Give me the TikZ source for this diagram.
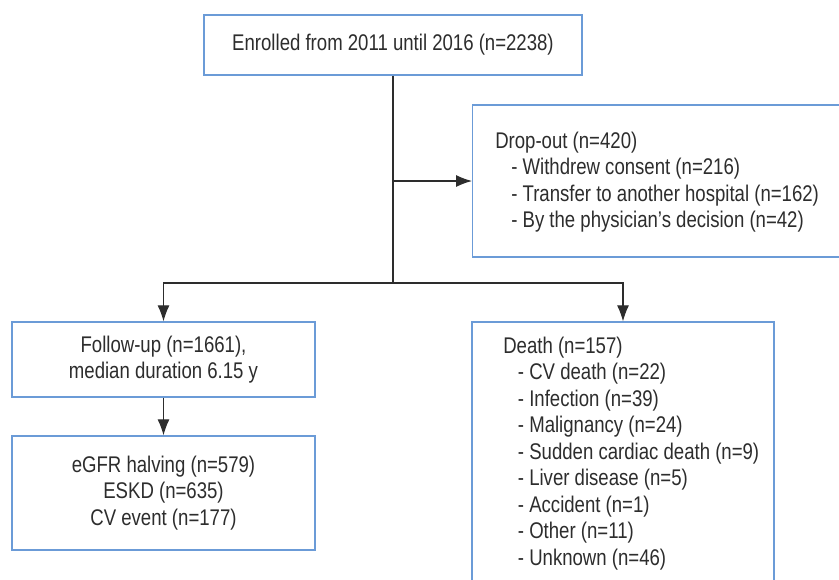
\documentclass[tikz,border=0pt]{standalone}
\usepackage{fontspec}
\setmainfont{Liberation Sans}[FakeStretch=0.82]
\usetikzlibrary{arrows.meta}

\definecolor{boxblue}{RGB}{107,155,215}
\definecolor{inkgray}{RGB}{45,45,45}

\tikzset{
    flowbox/.style={draw=boxblue, line width=1pt, fill=white, inner sep=0pt,
        text=inkgray, align=center},
    listtext/.style={text=inkgray, align=left, inner sep=0pt, anchor=west},
    flowline/.style={draw=inkgray, line width=0.8pt},
    flowarrow/.style={flowline, -{Latex[length=12pt, width=9pt]}},
}

\begin{document}
\begin{tikzpicture}[x=0.75pt, y=-0.75pt, font=\fontsize{17}{19.9}\selectfont]
    \path[use as bounding box, clip] (0,0) rectangle (839,579);

    % boxes
    \node[flowbox, minimum width=283.5pt, minimum height=45pt] (enrol) at (393,45)
        {Enrolled from 2011 until 2016 (n=2238)};
    \node[flowbox, minimum width=300pt, minimum height=114pt, anchor=west] (drop) at (472,181) {};
    \node[listtext] (droptext) at (495,182)
        {Drop-out (n=420)\\
         \hspace*{12pt}- Withdrew consent (n=216)\\
         \hspace*{12pt}- Transfer to another hospital (n=162)\\
         \hspace*{12pt}- By the physician’s decision (n=42)};
    \node[flowbox, minimum width=227.25pt, minimum height=56.25pt] (follow) at (163.5,359.5)
        {Follow-up (n=1661),\\ median duration 6.15 y};
    \node[flowbox, minimum width=227.25pt, minimum height=85.5pt] (outcome) at (163.5,493)
        {eGFR halving (n=579)\\ ESKD (n=635)\\ CV event (n=177)};
    \node[flowbox, minimum width=226.5pt, minimum height=197.25pt] (death) at (623,453.5) {};
    \node[listtext] (deathtext) at (503,453.5)
        {Death (n=157)\\
         \hspace*{11pt}- CV death (n=22)\\
         \hspace*{11pt}- Infection (n=39)\\
         \hspace*{11pt}- Malignancy (n=24)\\
         \hspace*{11pt}- Sudden cardiac death (n=9)\\
         \hspace*{11pt}- Liver disease (n=5)\\
         \hspace*{11pt}- Accident (n=1)\\
         \hspace*{11pt}- Other (n=11)\\
         \hspace*{11pt}- Unknown (n=46)};

    % connectors
    \coordinate (fork) at (393,283);
    \draw[flowline] (enrol.south) -- (fork);
    \draw[flowarrow] (enrol.south |- drop.west) -- (drop.west);
    \draw[flowarrow] (fork) -| (follow.north);
    \draw[flowarrow] (fork) -| (death.north);
    \draw[flowarrow] (follow.south) -- (outcome.north);
\end{tikzpicture}
\end{document}
